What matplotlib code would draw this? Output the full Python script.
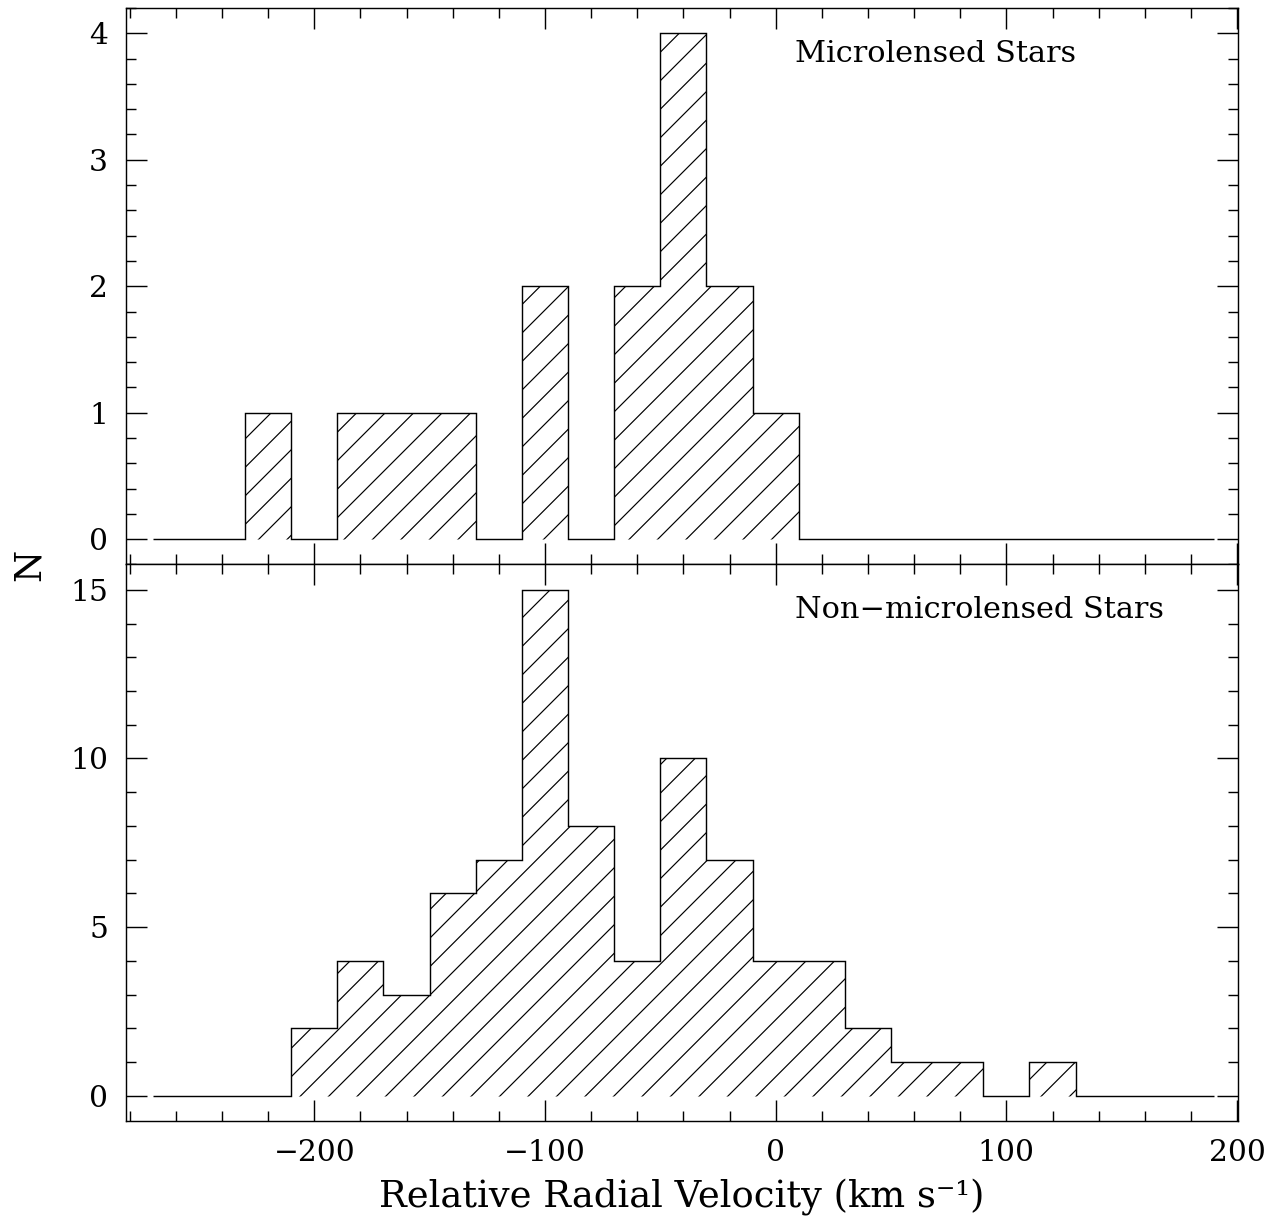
import numpy as np
import matplotlib.pyplot as plt
from matplotlib.ticker import MultipleLocator

# velocity bins (km/s), 20 km/s wide
edges = np.arange(-270, 191, 20)
micro_counts = [0, 0, 1, 0, 1, 1, 1, 0, 2, 0, 2, 4, 2, 1, 0, 0, 0, 0, 0, 0, 0, 0, 0]
nonmicro_counts = [0, 0, 0, 2, 4, 3, 6, 7, 15, 8, 4, 10, 7, 4, 4, 2, 1, 1, 0, 1, 0, 0, 0]

plt.rcParams['font.family'] = ['DejaVu Serif']
plt.rcParams['hatch.linewidth'] = 0.5
plt.rcParams['axes.linewidth'] = 0.6

dpi = 171
fig, (ax1, ax2) = plt.subplots(2, 1, sharex=True, figsize=(1279 / dpi, 1224 / dpi), dpi=dpi)
fig.subplots_adjust(left=126 / 1279, right=1238 / 1279, top=1 - 8 / 1224,
                    bottom=1 - 1121 / 1224, hspace=0)

for ax, counts, label in [(ax1, micro_counts, 'Microlensed Stars'),
                          (ax2, nonmicro_counts, 'Non\u2212microlensed Stars')]:
    ax.stairs(counts, edges, fill=True, facecolor='none', edgecolor='black',
              hatch='//', linewidth=0.6)
    ax.text(0.6016, 0.918, label, transform=ax.transAxes, ha='left', va='center',
            fontsize=12.8)
    ax.tick_params(which='both', direction='in', top=True, right=True,
                   width=0.6, labelsize=12.5)
    ax.tick_params(which='major', length=8.8, pad=7.5)
    ax.tick_params(which='minor', length=4.2)
    ax.xaxis.set_major_locator(MultipleLocator(100))
    ax.xaxis.set_minor_locator(MultipleLocator(20))

ax1.set_ylim(-0.2, 4.2)
ax1.yaxis.set_major_locator(MultipleLocator(1))
ax1.yaxis.set_minor_locator(MultipleLocator(0.2))
ax1.tick_params(labelbottom=False)

ax2.set_ylim(-0.75, 15.75)
ax2.yaxis.set_major_locator(MultipleLocator(5))
ax2.yaxis.set_minor_locator(MultipleLocator(1))
ax2.set_xlim(-281.6, 200.4)

# axis titles placed in figure coordinates
fig.text(682 / 1279, 1 - 1197 / 1224, 'Relative Radial Velocity (km s\u207b\u00b9)',
         ha='center', va='center', fontsize=15.5)
fig.text(30 / 1279, 1 - 565 / 1224, 'N', rotation=90, ha='center', va='center',
         fontsize=15.5)

fig.savefig('out.png', dpi=dpi)
